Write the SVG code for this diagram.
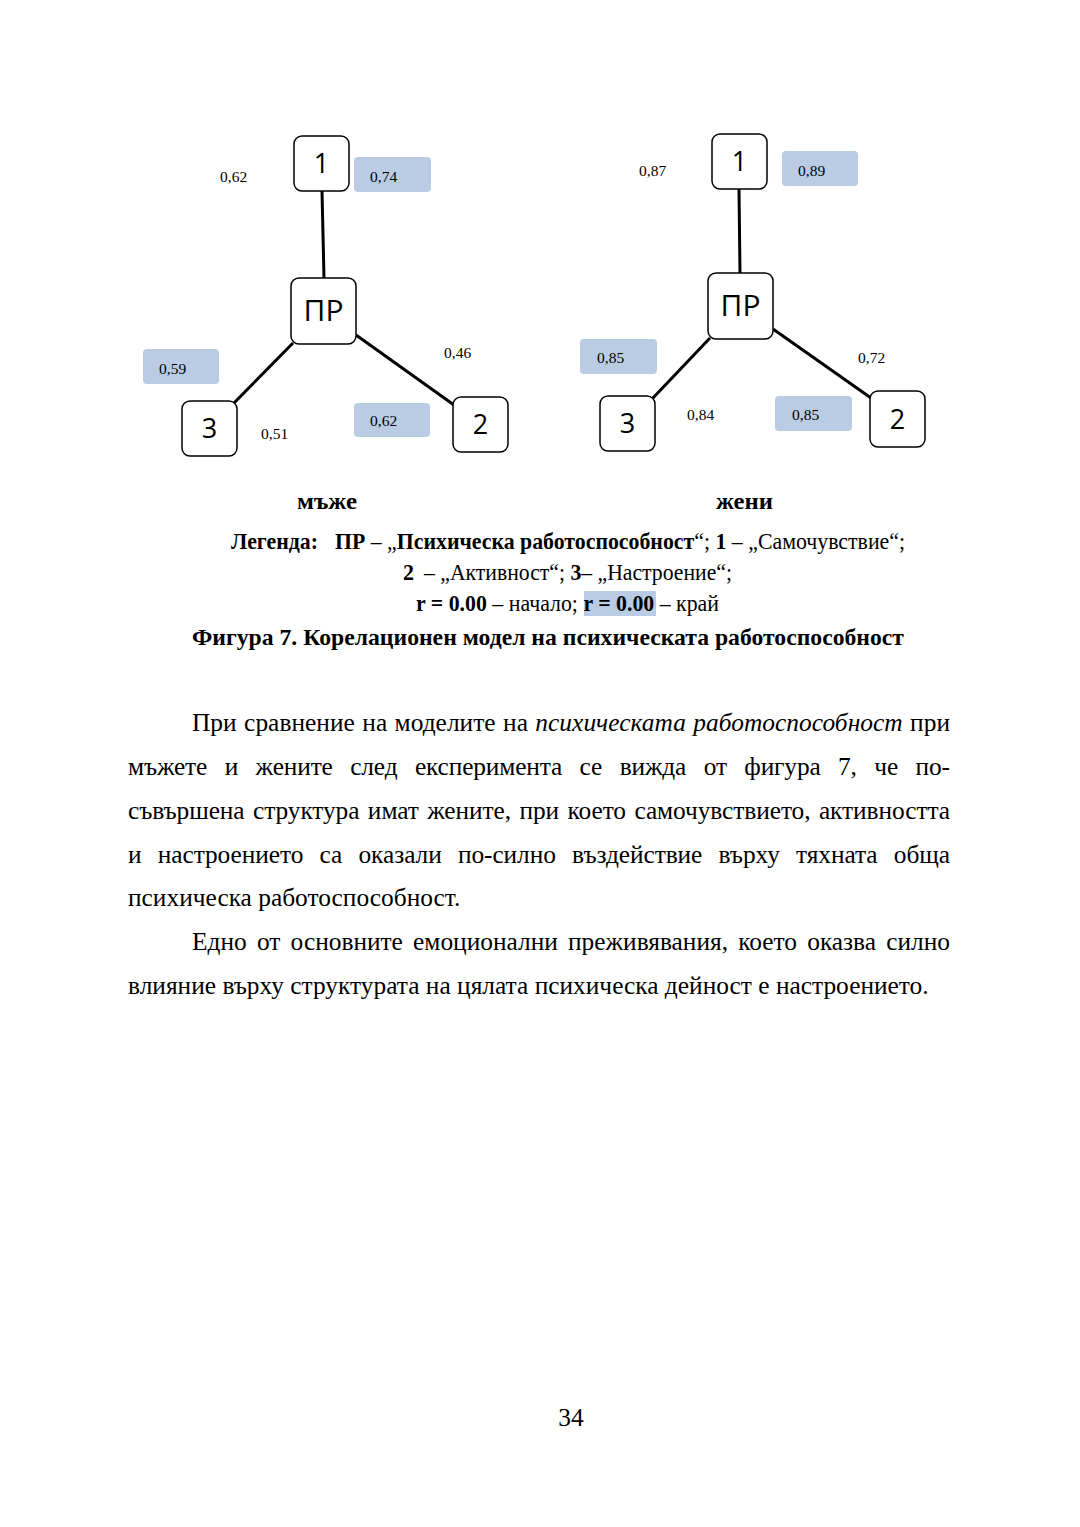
<svg xmlns="http://www.w3.org/2000/svg" width="1080" height="1527" viewBox="0 0 1080 1527">
<style>
.node{fill:#fff;stroke:#000;stroke-width:1.5}
.nt{font-family:"Open Sans","Liberation Sans",sans-serif;font-size:27px;fill:#000;text-anchor:middle}
.hl{fill:#b9cce4}
.lb{font-family:"Liberation Serif",serif;font-size:15.5px;fill:#000}
.edge{stroke:#000;stroke-width:3;fill:none}
.body{font-family:"Liberation Serif",serif;font-size:25.4px;fill:#000}
.cap{font-family:"Liberation Serif",serif;font-size:24px;fill:#000}
.b{font-weight:bold}
.i{font-style:italic}
</style>
<rect width="1080" height="1527" fill="#fff"/>
<g id="connectors">
<line class="edge" x1="322" y1="191" x2="324" y2="278"/>
<line class="edge" x1="356" y1="335" x2="454" y2="405"/>
<line class="edge" x1="293" y1="343" x2="234" y2="403"/>
<line class="edge" x1="739" y1="189" x2="740" y2="273"/>
<line class="edge" x1="773" y1="329" x2="871" y2="398"/>
<line class="edge" x1="710" y1="338" x2="652" y2="399"/>
</g>
<g id="left-n1"><rect class="node" x="294" y="136" width="55" height="55" rx="8"/><text class="nt" x="321.5" y="173">1</text></g>
<g id="left-pr"><rect class="node" x="291" y="278" width="65" height="66" rx="8"/><text class="nt" x="323.5" y="321" style="font-size:30px">ПР</text></g>
<g id="left-n2"><rect class="node" x="453" y="397" width="55" height="55" rx="8"/><text class="nt" x="480.5" y="434">2</text></g>
<g id="left-n3"><rect class="node" x="182" y="401" width="55" height="55" rx="8"/><text class="nt" x="209.5" y="438">3</text></g>
<g id="right-n1"><rect class="node" x="712" y="134" width="55" height="55" rx="8"/><text class="nt" x="739.5" y="171">1</text></g>
<g id="right-pr"><rect class="node" x="708" y="273" width="65" height="66" rx="8"/><text class="nt" x="740.5" y="316" style="font-size:30px">ПР</text></g>
<g id="right-n2"><rect class="node" x="870" y="391" width="55" height="56" rx="8"/><text class="nt" x="897.5" y="429">2</text></g>
<g id="right-n3"><rect class="node" x="600" y="396" width="55" height="55" rx="8"/><text class="nt" x="627.5" y="433">3</text></g>
<g id="labels">
<rect class="hl" x="354" y="157" width="77" height="35" rx="4"/>
<rect class="hl" x="143" y="349" width="76" height="35" rx="4"/>
<rect class="hl" x="354" y="403" width="76" height="34" rx="4"/>
<rect class="hl" x="782" y="151" width="76" height="35" rx="4"/>
<rect class="hl" x="580" y="339" width="77" height="35" rx="4"/>
<rect class="hl" x="775" y="396" width="77" height="35" rx="4"/>
<text class="lb" x="220" y="182">0,62</text>
<text class="lb" x="370" y="182">0,74</text>
<text class="lb" x="159" y="374">0,59</text>
<text class="lb" x="444" y="358">0,46</text>
<text class="lb" x="261" y="439">0,51</text>
<text class="lb" x="370" y="426">0,62</text>
<text class="lb" x="639" y="176">0,87</text>
<text class="lb" x="798" y="176">0,89</text>
<text class="lb" x="597" y="363">0,85</text>
<text class="lb" x="858" y="363">0,72</text>
<text class="lb" x="687" y="420">0,84</text>
<text class="lb" x="792" y="420">0,85</text>
</g>
<g id="caption">
<text class="cap b" x="297" y="509" textLength="60" lengthAdjust="spacingAndGlyphs">мъже</text>
<text class="cap b" x="716" y="509" textLength="57" lengthAdjust="spacingAndGlyphs">жени</text>
<text class="cap b" x="231" y="549" textLength="87" lengthAdjust="spacingAndGlyphs">Легенда:</text>
<text class="cap" x="335" y="549" textLength="570" lengthAdjust="spacingAndGlyphs"><tspan class="b">ПР</tspan> – „<tspan class="b">Психическа работоспособност</tspan>“; <tspan class="b">1</tspan> – „Самочувствие“;</text>
<text class="cap b" x="403" y="580" textLength="11" lengthAdjust="spacingAndGlyphs">2</text>
<text class="cap" x="424" y="580" textLength="308" lengthAdjust="spacingAndGlyphs">– „Активност“; <tspan class="b">3</tspan>– „Настроение“;</text>
<rect class="hl" x="584" y="591" width="72" height="25"/>
<text class="cap" x="416" y="611" textLength="303" lengthAdjust="spacingAndGlyphs"><tspan class="b">r = 0.00</tspan> – начало; <tspan class="b">r = 0.00</tspan> – край</text>
<text class="cap b" x="192" y="645" textLength="712" lengthAdjust="spacingAndGlyphs">Фигура 7. Корелационен модел на психическата работоспособност</text>
</g>
<g id="body" class="body">
<text x="192" y="731" word-spacing="1" textLength="758" lengthAdjust="spacing">При сравнение на моделите на <tspan class="i">психическата работоспособност</tspan> при</text>
<text x="128" y="775" word-spacing="11.3" textLength="822" lengthAdjust="spacing">мъжете и жените след експеримента се вижда от фигура 7, че по-</text>
<text x="128" y="819" word-spacing="2.2" textLength="822" lengthAdjust="spacing">съвършена структура имат жените, при което самочувствието, активността</text>
<text x="128" y="863" word-spacing="10" textLength="822" lengthAdjust="spacing">и настроението са оказали по-силно въздействие върху тяхната обща</text>
<text x="128" y="906">психическа работоспособност.</text>
<text x="192" y="950" word-spacing="3.9" textLength="758" lengthAdjust="spacing">Едно от основните емоционални преживявания, което оказва силно</text>
<text x="128" y="994">влияние върху структурата на цялата психическа дейност е настроението.</text>
<text x="571" y="1426" text-anchor="middle">34</text>
</g>
</svg>
